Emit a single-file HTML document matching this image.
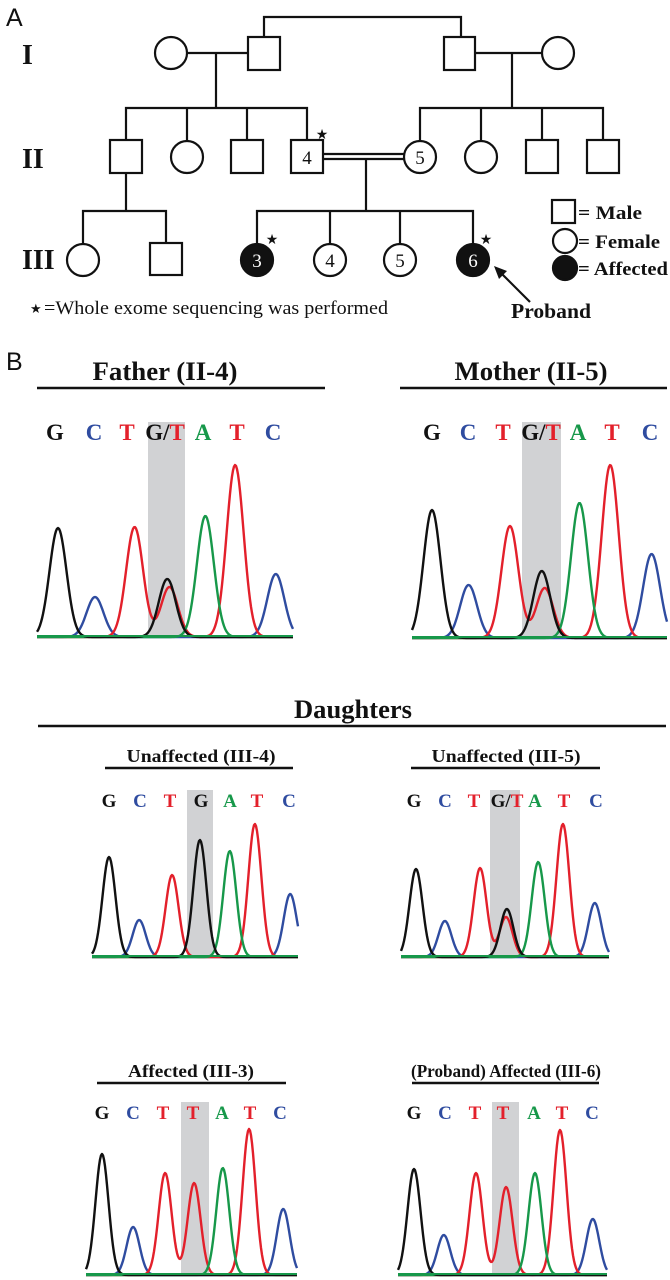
<!DOCTYPE html>
<html><head><meta charset="utf-8">
<style>
html,body{margin:0;padding:0;background:#fff;}
svg{display:block;}
.ser{font-family:"Liberation Serif",serif;font-weight:bold;}
</style></head>
<body>
<svg id="fig" width="670" height="1280" viewBox="0 0 670 1280" xmlns="http://www.w3.org/2000/svg">
<rect width="670" height="1280" fill="#fff"/>
<g stroke="#111" stroke-width="2.2" fill="#fff">
  <text x="6" y="26" font-family="Liberation Sans,sans-serif" font-size="25" stroke="none" fill="#111">A</text>
  <text x="22" y="64" class="ser" font-size="28" stroke="none" fill="#111">I</text>
  <text x="22" y="168" class="ser" font-size="28" stroke="none" fill="#111">II</text>
  <text x="22" y="269" class="ser" font-size="28" stroke="none" fill="#111">III</text>
  <polyline points="264,37 264,17 461,17 461,37" fill="none"/>
  <line x1="187" y1="53" x2="248" y2="53"/>
  <line x1="475" y1="53" x2="542" y2="53"/>
  <circle cx="171" cy="53" r="16"/>
  <rect x="248" y="37" width="32" height="33"/>
  <rect x="444" y="37" width="31" height="33"/>
  <circle cx="558" cy="53" r="16"/>
  <line x1="216" y1="53" x2="216" y2="108"/>
  <line x1="512" y1="53" x2="512" y2="108"/>
  <polyline points="126,140 126,108 307,108 307,140" fill="none"/>
  <line x1="187" y1="108" x2="187" y2="141"/>
  <line x1="247" y1="108" x2="247" y2="140"/>
  <polyline points="420,141 420,108 603,108 603,140" fill="none"/>
  <line x1="481" y1="108" x2="481" y2="141"/>
  <line x1="542" y1="108" x2="542" y2="140"/>
  <rect x="110" y="140" width="32" height="33"/>
  <circle cx="187" cy="157" r="16"/>
  <rect x="231" y="140" width="32" height="33"/>
  <rect x="291" y="140" width="32" height="33"/>
  <circle cx="420" cy="157" r="16"/>
  <circle cx="481" cy="157" r="16"/>
  <rect x="526" y="140" width="32" height="33"/>
  <rect x="587" y="140" width="32" height="33"/>
  <line x1="323" y1="154" x2="404" y2="154"/>
  <line x1="323" y1="159" x2="404" y2="159"/>
  <g stroke="none" fill="#111" font-family="Liberation Serif,serif" font-size="19" text-anchor="middle">
    <text x="307" y="164">4</text><text x="420" y="164">5</text>
  </g>
  <line x1="126" y1="173" x2="126" y2="211"/>
  <polyline points="83,244 83,211 166,211 166,243" fill="none"/>
  <line x1="366" y1="158" x2="366" y2="211"/>
  <polyline points="257,244 257,211 473,211 473,244" fill="none"/>
  <line x1="330" y1="211" x2="330" y2="244"/>
  <line x1="400" y1="211" x2="400" y2="244"/>
  <circle cx="83" cy="260" r="16"/>
  <rect x="150" y="243" width="32" height="32"/>
  <circle cx="257" cy="260" r="16" fill="#111"/>
  <circle cx="330" cy="260" r="16"/>
  <circle cx="400" cy="260" r="16"/>
  <circle cx="473" cy="260" r="16" fill="#111"/>
  <g stroke="none" font-family="Liberation Serif,serif" font-size="19" text-anchor="middle">
    <text x="257" y="267" fill="#fff">3</text><text x="330" y="267" fill="#111">4</text>
    <text x="400" y="267" fill="#111">5</text><text x="473" y="267" fill="#fff">6</text>
  </g>
  <g stroke="none" fill="#111" font-size="14" text-anchor="middle" font-family="DejaVu Sans,sans-serif">
    <text x="322" y="139">★</text>
    <text x="272" y="244">★</text>
    <text x="486" y="244">★</text>
  </g>
  <rect x="552" y="200" width="23" height="23"/>
  <circle cx="565" cy="241" r="12"/>
  <circle cx="565" cy="268" r="12" fill="#111"/>
  <g stroke="none" fill="#111" class="ser" font-size="19">
    <text x="578" y="219" textLength="64" lengthAdjust="spacingAndGlyphs">= Male</text>
    <text x="578" y="248" textLength="82" lengthAdjust="spacingAndGlyphs">= Female</text>
    <text x="578" y="275" textLength="90" lengthAdjust="spacingAndGlyphs">= Affected</text>
    <text x="511" y="318" textLength="80" lengthAdjust="spacingAndGlyphs" font-size="21">Proband</text>
  </g>
  <line x1="530" y1="302" x2="500" y2="272"/>
  <polygon points="494,266 507,271 499,279" fill="#111" stroke="none"/>
  <text x="30" y="313" stroke="none" fill="#111" font-size="13" font-family="DejaVu Sans,sans-serif">★</text>
  <text x="44" y="314" stroke="none" fill="#111" font-family="Liberation Serif,serif" font-size="19" textLength="344" lengthAdjust="spacingAndGlyphs">=Whole exome sequencing was performed</text>
</g>
<g id="panelB">
  <text x="6" y="370" font-family="Liberation Sans,sans-serif" font-size="25" fill="#111">B</text>
  <g class="ser" fill="#111" font-size="26" text-anchor="middle">
    <text x="165" y="380" textLength="145" lengthAdjust="spacingAndGlyphs">Father (II-4)</text>
    <text x="531" y="380" textLength="153" lengthAdjust="spacingAndGlyphs">Mother (II-5)</text>
    <text x="353" y="718" textLength="118" lengthAdjust="spacingAndGlyphs">Daughters</text>
  </g>
  <g class="ser" fill="#111" font-size="18" text-anchor="middle">
    <text x="201" y="762" textLength="149" lengthAdjust="spacingAndGlyphs">Unaffected (III-4)</text>
    <text x="506" y="762" textLength="149" lengthAdjust="spacingAndGlyphs">Unaffected (III-5)</text>
    <text x="191" y="1077" textLength="126" lengthAdjust="spacingAndGlyphs">Affected (III-3)</text>
    <text x="506" y="1077" textLength="190" lengthAdjust="spacingAndGlyphs">(Proband) Affected (III-6)</text>
  </g>
  <g stroke="#111" stroke-width="2.6">
    <line x1="37" y1="388" x2="325" y2="388"/>
    <line x1="400" y1="388" x2="667" y2="388"/>
    <line x1="38" y1="726" x2="666" y2="726"/>
    <line x1="105" y1="768" x2="293" y2="768"/>
    <line x1="411" y1="768" x2="600" y2="768"/>
    <line x1="97" y1="1083" x2="286" y2="1083"/>
    <line x1="412" y1="1083" x2="599" y2="1083"/>
  </g>
</g>
</svg>
<script>
const fatherChannels = ["G","C","T","G","T","A","T","C"];
const fatherPos = [0, 1.02, 2.11, 3.01, 3.07, 4.06, 4.88, 6];
const fatherVals = [109, 40, 110, 58, 50, 121, 172, 63];
const motherChannels = ["G","C","T","G","T","A","T","C"];
const motherPos = [0, 1.0, 2.13, 3.0, 3.08, 4.03, 4.87, 6];
const motherVals = [128, 53, 112, 67, 50, 135, 173, 84];
const iii4Channels = ["G","C","T","G","A","T","C"];
const iii4Pos = [0, 1.0, 2.09, 3.01, 4.0, 4.83, 6];
const iii4Vals = [100, 37, 82, 117, 106, 133, 63];
const iii5Channels = ["G","C","T","G","T","A","T","C"];
const iii5Pos = [0, 0.97, 2.15, 3.05, 3.02, 4.1, 4.93, 6];
const iii5Vals = [88, 36, 89, 48, 40, 95, 133, 54];
const iii3Channels = ["G","C","T","T","A","T","C"];
const iii3Pos = [0, 1.03, 2.09, 3.05, 4.0, 4.87, 6];
const iii3Vals = [121, 48, 102, 92, 107, 146, 66];
const iii6Channels = ["G","C","T","T","A","T","C"];
const iii6Pos = [0, 1.0, 2.08, 3.09, 4.06, 4.9, 6];
const iii6Vals = [106, 40, 102, 88, 102, 145, 56];
const fatherCalls = ["G","C","T","G/T","A","T","C"];
const motherCalls = ["G","C","T","G/T","A","T","C"];
const iii4Calls = ["G","C","T","G","A","T","C"];
const iii5Calls = ["G","C","T","G/T","A","T","C"];
const iii3Calls = ["G","C","T","T","A","T","C"];
const iii6Calls = ["G","C","T","T","A","T","C"];

const COL = {G:"#111111", C:"#2f4ca0", T:"#e3202b", A:"#17984a"};
const NS = "http://www.w3.org/2000/svg";
const root = document.getElementById("panelB");

const panels = [
  {id:"father", ch:fatherChannels, pos:fatherPos, val:fatherVals, calls:fatherCalls, x0:58, dx:36.3, base:637, x1:37, x2:293, sig:8.5, gray:[148,185,422], ly:440, fs:23, lx:[55,94,127,165,203,237,273]},
  {id:"mother", ch:motherChannels, pos:motherPos, val:motherVals, calls:motherCalls, x0:432, dx:36.6, base:638, x1:412, x2:667, sig:8.5, gray:[522,561,422], ly:440, fs:23, lx:[432,468,503,541,578,612,650]},
  {id:"iii-4", ch:iii4Channels, pos:iii4Pos, val:iii4Vals, calls:iii4Calls, x0:109, dx:30.2, base:957, x1:92, x2:298, sig:6.5, gray:[187,213,790], ly:807, fs:19, lx:[109,140,170,201,230,257,289]},
  {id:"iii-5", ch:iii5Channels, pos:iii5Pos, val:iii5Vals, calls:iii5Calls, x0:416, dx:29.8, base:957, x1:401, x2:609, sig:6.5, gray:[490,520,790], ly:807, fs:19, lx:[414,445,474,507,535,564,596]},
  {id:"iii-3", ch:iii3Channels, pos:iii3Pos, val:iii3Vals, calls:iii3Calls, x0:102, dx:30.2, base:1275, x1:86, x2:297, sig:6.5, gray:[181,209,1102], ly:1119, fs:19, lx:[102,133,163,193,222,250,280]},
  {id:"iii-6", ch:iii6Channels, pos:iii6Pos, val:iii6Vals, calls:iii6Calls, x0:414, dx:29.8, base:1275, x1:398, x2:607, sig:6.5, gray:[492,519,1102], ly:1119, fs:19, lx:[414,445,475,503,534,562,592]}
];

function mk(tag, attrs){ const e=document.createElementNS(NS,tag); for(const k in attrs) e.setAttribute(k, attrs[k]); return e; }

panels.forEach(p=>{
  const g = mk("g",{});
  
  
  root.appendChild(g);
  const xs = i => p.x0 + i*p.dx;
  const ys = v => p.base - v;
  const gr = mk("rect",{x:p.gray[0], y:p.gray[2], width:p.gray[1]-p.gray[0], height:p.base-p.gray[2]+1, fill:"#d1d2d4"});
  
  
  g.appendChild(gr);
  p.calls.forEach((c,i)=>{
    const t = mk("text",{x:p.lx[i], y:p.ly, "text-anchor":"middle", "font-family":"Liberation Serif,serif", "font-weight":"bold", "font-size":p.fs});
    
    
    if(c==="G/T"){
      const a=mk("tspan",{fill:COL.G}); a.textContent="G/"; t.appendChild(a);
      const b=mk("tspan",{fill:COL.T}); b.textContent="T"; t.appendChild(b);
    } else { t.setAttribute("fill", COL[c]); t.textContent=c; }
    g.appendChild(t);
  });
  ["C","T","A","G"].forEach(chn=>{
    let d="";
    for(let x=p.x1; x<=p.x2; x+=1){
      let v=0;
      p.ch.forEach((c,k)=>{ if(c===chn){ const dxp = x - xs(p.pos[k]); v += p.val[k]*Math.exp(-dxp*dxp/(2*p.sig*p.sig)); }});
      d += (d?"L":"M") + x + "," + ys(v).toFixed(1);
    }
    const path = mk("path",{d:d, fill:"none", stroke:COL[chn], "stroke-width":2.4, "stroke-linejoin":"round"});
    
    
    g.appendChild(path);
  });
  const bl = mk("line",{x1:p.x1, x2:p.x2, y1:p.base-1, y2:p.base-1, stroke:"#17984a", "stroke-width":2});
  
  
  g.appendChild(bl);
});
</script>
</body></html>
